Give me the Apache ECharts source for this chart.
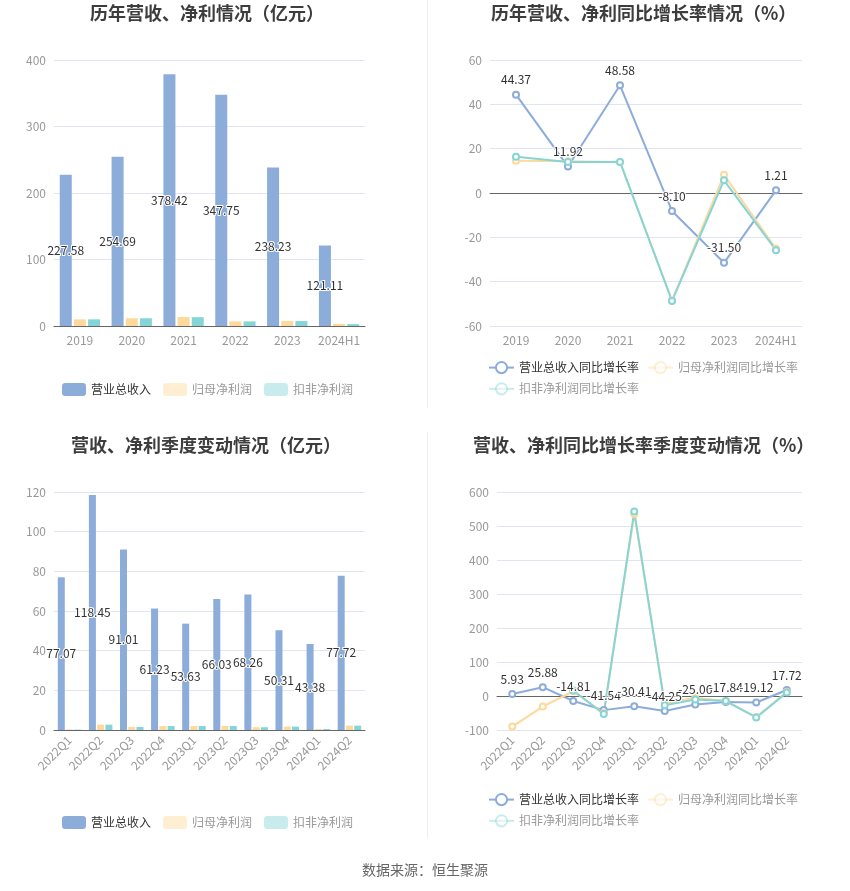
<!DOCTYPE html>
<html>
<head>
<meta charset="utf-8">
<script src="https://cdn.jsdelivr.net/npm/echarts@6/dist/echarts.min.js"></script>
<style>
  html, body { margin: 0; padding: 0; background: #fff; }
  #main { width: 850px; height: 891px; }
</style>
</head>
<body>
<div id="main"></div>
<script>
/* 年度数据 */
var years = ['2019', '2020', '2021', '2022', '2023', '2024H1'];
var yearRevenue = [227.58, 254.69, 378.42, 347.75, 238.23, 121.11];
var yearNetProfit = [10.0, 11.6, 13.5, 7.0, 7.5, 3.0];
var yearDeductProfit = [10.0, 11.6, 13.3, 6.9, 7.4, 2.8];
var yearRevenueGrowth = [44.37, 11.92, 48.58, -8.10, -31.50, 1.21];
var yearNetGrowth = [14.5, 14.3, 14.0, -48.5, 8.2, -25.2];
var yearDeductGrowth = [16.3, 14.0, 14.0, -48.7, 5.7, -25.8];

/* 季度数据 */
var quarters = ['2022Q1', '2022Q2', '2022Q3', '2022Q4', '2023Q1', '2023Q2', '2023Q3', '2023Q4', '2024Q1', '2024Q2'];
var qRevenue = [77.07, 118.45, 91.01, 61.23, 53.63, 66.03, 68.26, 50.31, 43.38, 77.72];
var qNetProfit = [0.3, 2.7, 1.5, 2.0, 2.0, 2.0, 1.4, 1.7, 0.5, 2.2];
var qDeductProfit = [0.2, 2.7, 1.5, 2.0, 2.0, 2.0, 1.4, 1.7, 0.5, 2.2];
var qRevenueGrowth = [5.93, 25.88, -14.81, -41.54, -30.41, -44.25, -25.06, -17.84, -19.12, 17.72];
var qNetGrowth = [-90, -31, 14, -50, 535, -22, -5, -15, -62, 12];
var qDeductGrowth = [null, null, 16, -53, 543, -27, -10, -15, -63, 10];

var blue = '#8CACDA', yellow = '#FDD99B', teal = '#86D5D6';
var font = '"Noto Sans CJK SC", sans-serif';

function fix2(p) { return Number(p.value).toFixed(2); }

var barLabel = {
    show: true, position: 'inside', color: '#333', fontSize: 12,
    textBorderColor: '#fff', textBorderWidth: 2, formatter: fix2
};
var lineLabel = {
    show: true, position: 'top', color: '#333', fontSize: 12,
    textBorderColor: '#fff', textBorderWidth: 2, formatter: fix2
};

function legendItems(names) {
    return names.map(function (n, i) {
        if (i === 0) return { name: n, textStyle: { color: '#333' } };
        return { name: n, textStyle: { color: '#999' }, itemStyle: { opacity: 0.45 }, lineStyle: { opacity: 0.45 } };
    });
}

function xCat(idx, data, rotate) {
    return {
        type: 'category', gridIndex: idx, data: data,
        axisLine: { onZero: true, lineStyle: { color: '#666' } },
        axisTick: { alignWithLabel: true, lineStyle: { color: '#666' } },
        axisLabel: { color: '#999', fontSize: 12, interval: 0, rotate: rotate || 0, margin: 8 }
    };
}
function yVal(idx, min, max, step) {
    return {
        type: 'value', gridIndex: idx, min: min, max: max, interval: step,
        axisLine: { show: false }, axisTick: { show: false },
        axisLabel: { color: '#999', fontSize: 12 },
        splitLine: { lineStyle: { color: '#E0E6F1' } }
    };
}
function lineSeries(name, data, color, xi, withLabel) {
    return {
        name: name, type: 'line', xAxisIndex: xi, yAxisIndex: xi, data: data,
        symbol: 'emptyCircle', symbolSize: 6,
        lineStyle: { width: 2, color: color }, itemStyle: { color: color },
        label: withLabel ? lineLabel : { show: false }
    };
}
function barSeries(name, data, color, xi, width, withLabel) {
    return {
        name: name, type: 'bar', xAxisIndex: xi, yAxisIndex: xi, data: data,
        barWidth: width, barGap: '18%', itemStyle: { color: color },
        label: withLabel ? barLabel : { show: false }
    };
}

var chart = echarts.init(document.getElementById('main'));
var titleStyle = { fontSize: 18, fontWeight: 'bold', color: '#3d3d3d', fontFamily: font };

var option = {
    backgroundColor: '#fff',
    textStyle: { fontFamily: font },
    animation: false,
    title: [
        { text: '历年营收、净利情况（亿元）', left: 90, top: 4, padding: 0, textStyle: titleStyle },
        { text: '历年营收、净利同比增长率情况（%）', left: 491, top: 4, padding: 0, textStyle: titleStyle },
        { text: '营收、净利季度变动情况（亿元）', left: 71, top: 436, padding: 0, textStyle: titleStyle },
        { text: '营收、净利同比增长率季度变动情况（%）', left: 473, top: 436, padding: 0, textStyle: titleStyle },
        { text: '数据来源：恒生聚源', left: 362, top: 863, padding: 0,
          textStyle: { fontSize: 14, fontWeight: 'normal', color: '#666', fontFamily: font } }
    ],
    legend: [
        { left: 62, top: 383, itemWidth: 24, itemHeight: 13, itemGap: 12, padding: 0,
          textStyle: { fontSize: 12 },
          data: legendItems(['营业总收入', '归母净利润', '扣非净利润']) },
        { left: 488, top: 361, width: 320, itemWidth: 25, itemHeight: 14, itemGap: 8, padding: 0,
          textStyle: { fontSize: 12 },
          data: legendItems(['营业总收入同比增长率', '归母净利润同比增长率', '扣非净利润同比增长率']) },
        { left: 62, top: 816, itemWidth: 24, itemHeight: 13, itemGap: 12, padding: 0,
          textStyle: { fontSize: 12 },
          data: legendItems(['营业总收入', '归母净利润', '扣非净利润']) },
        { left: 488, top: 793, width: 320, itemWidth: 25, itemHeight: 14, itemGap: 8, padding: 0,
          textStyle: { fontSize: 12 },
          data: legendItems(['营业总收入同比增长率', '归母净利润同比增长率', '扣非净利润同比增长率']) }
    ],
    grid: [
        { left: 54, top: 60, width: 311, height: 266 },
        { left: 490, top: 60, width: 312, height: 266 },
        { left: 54, top: 492, width: 311, height: 238 },
        { left: 497, top: 492, width: 305, height: 238 }
    ],
    xAxis: [xCat(0, years), xCat(1, years), xCat(2, quarters, 45), xCat(3, quarters, 45)],
    yAxis: [yVal(0, 0, 400, 100), yVal(1, -60, 60, 20), yVal(2, 0, 120, 20), yVal(3, -100, 600, 100)],
    graphic: [
        { type: 'line', shape: { x1: 427.5, y1: 0, x2: 427.5, y2: 408 }, style: { stroke: '#eee', lineWidth: 1 } },
        { type: 'line', shape: { x1: 427.5, y1: 432, x2: 427.5, y2: 838 }, style: { stroke: '#eee', lineWidth: 1 } }
    ],
    series: [
        barSeries('营业总收入', yearRevenue, blue, 0, 12, true),
        barSeries('归母净利润', yearNetProfit, yellow, 0, 12, false),
        barSeries('扣非净利润', yearDeductProfit, teal, 0, 12, false),
        lineSeries('营业总收入同比增长率', yearRevenueGrowth, blue, 1, true),
        lineSeries('归母净利润同比增长率', yearNetGrowth, yellow, 1, false),
        lineSeries('扣非净利润同比增长率', yearDeductGrowth, teal, 1, false),
        barSeries('营业总收入', qRevenue, blue, 2, 7, true),
        barSeries('归母净利润', qNetProfit, yellow, 2, 7, false),
        barSeries('扣非净利润', qDeductProfit, teal, 2, 7, false),
        lineSeries('营业总收入同比增长率', qRevenueGrowth, blue, 3, true),
        lineSeries('归母净利润同比增长率', qNetGrowth, yellow, 3, false),
        lineSeries('扣非净利润同比增长率', qDeductGrowth, teal, 3, false)
    ]
};

chart.setOption(option);
</script>
</body>
</html>
